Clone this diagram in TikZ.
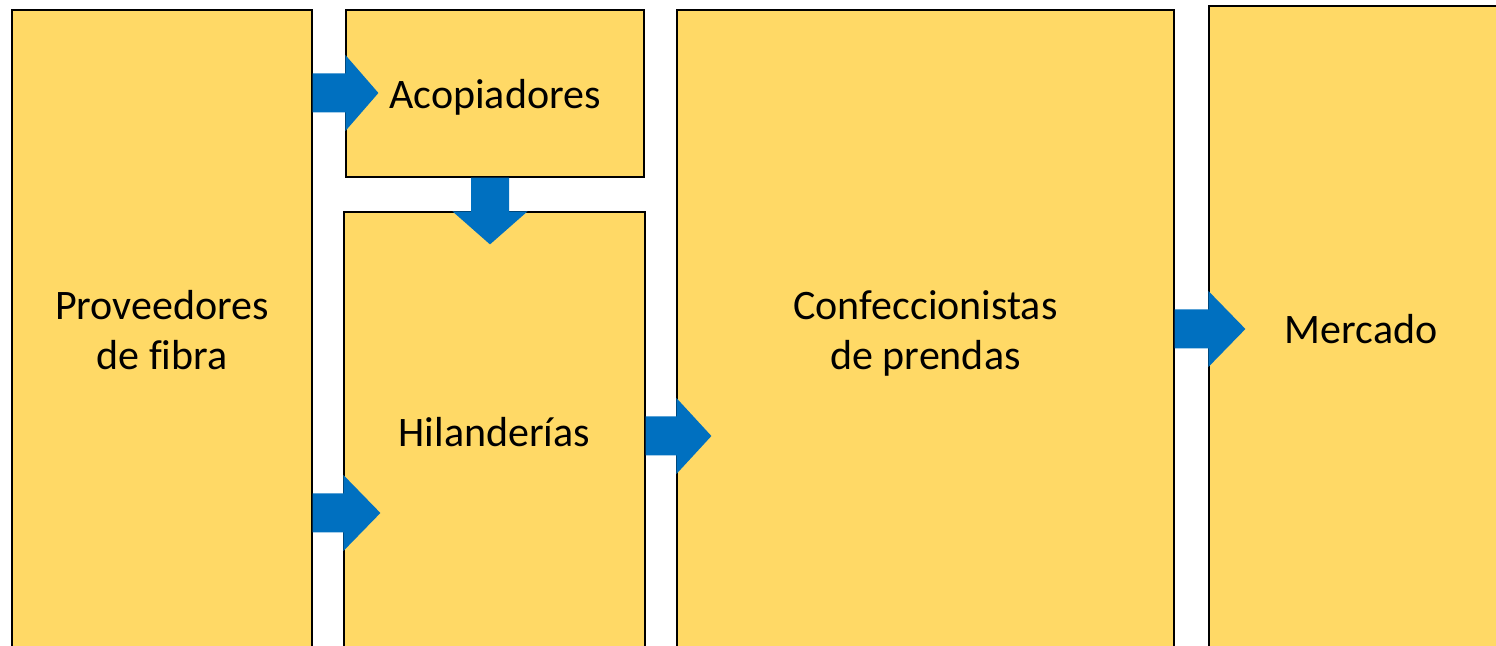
\documentclass[tikz,border=0pt]{standalone}
\usepackage{fontspec}
\setmainfont[Ligatures=NoCommon]{Carlito}
\usetikzlibrary{calc}
\definecolor{boxyellow}{HTML}{FFD966}
\definecolor{flowblue}{HTML}{0070C0}

% block arrow pointing right: #1 source node, #2 target node, #3 axis y, #4 head length
\newcommand{\rightblock}[4]{%
  \coordinate (tail) at (#1.east |- 0,#3);
  \coordinate (neck) at (#2.west |- 0,#3);
  \fill[flowblue] ($(tail)+(0,-19.5)$) -- ($(neck)+(0,-19.5)$) -- ($(neck)+(0,-38)$)
    -- ($(neck)+(#4,0)$) -- ($(neck)+(0,38)$) -- ($(neck)+(0,19.5)$) -- ($(tail)+(0,19.5)$) -- cycle;}

% block arrow pointing down: #1 source node, #2 target node, #3 axis x, #4 head length
\newcommand{\downblock}[4]{%
  \coordinate (tail) at (#1.south -| #3,0);
  \coordinate (neck) at (#2.north -| #3,0);
  \fill[flowblue] ($(tail)+(-19,0)$) -- ($(neck)+(-19,0)$) -- ($(neck)+(-37.5,0)$)
    -- ($(neck)+(0,#4)$) -- ($(neck)+(37.5,0)$) -- ($(neck)+(19,0)$) -- ($(tail)+(19,0)$) -- cycle;}

\begin{document}
\begin{tikzpicture}[x=0.5pt, y=-0.5pt,
  stage/.style={draw=black, line width=0.6pt, fill=boxyellow, inner sep=0pt,
    align=center, font=\fontsize{21pt}{25pt}\selectfont}]

  % Frame 1496 by 646, the boxes run past its lower edge.
  \useasboundingbox (0,0) rectangle (1496,646);
  \clip (0,0) rectangle (1496,646);

  \node[stage, minimum width=150pt, minimum height=320pt] (prov) at (162,330) {Proveedores\\de fibra};
  \node[stage, minimum width=149pt, minimum height=83.5pt, text depth=0pt] (acop) at (495,93.5) {Acopiadores};
  \node[stage, minimum width=150.5pt, minimum height=220pt] (hil) at (494.5,432) {Hilanderías};
  \node[stage, minimum width=248.5pt, minimum height=320pt, text depth=0pt] (conf) at (925.5,330) {Confeccionistas\\de prendas};
  \node[stage, minimum width=152pt, minimum height=323pt] (merc) at (1361,329) {Mercado};

  % Flow between the stages.
  \rightblock{prov}{acop}{93}{33}
  \rightblock{prov}{hil}{513}{37}
  \downblock{acop}{hil}{490}{33}
  \rightblock{hil}{conf}{436}{35}
  \rightblock{conf}{merc}{329}{37}

\end{tikzpicture}
\end{document}
